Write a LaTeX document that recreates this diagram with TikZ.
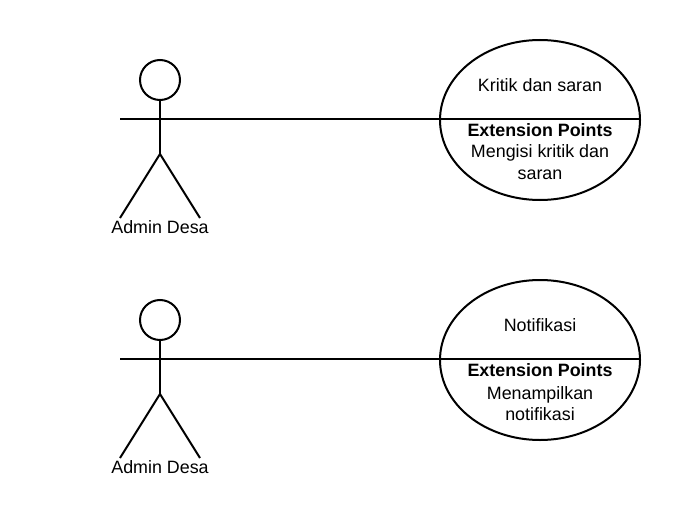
\documentclass[tikz,border=0pt]{standalone}
\usepackage{fontspec}
\setmainfont{Liberation Sans}
\usetikzlibrary{shapes.geometric}
\tikzset{
  ln/.style={draw=black,line width=1.5pt},
  lbl/.style={inner sep=0pt,anchor=base,font=\fontsize{13.4pt}{16pt}\selectfont,text=black,align=center},
  usecase/.style={ellipse,ln,minimum width=150pt,minimum height=120pt,inner sep=0pt},
  head/.style={circle,ln,minimum size=30pt,inner sep=0pt}
}
\begin{document}
\begin{tikzpicture}[x=0.75pt,y=-0.75pt]
\useasboundingbox[fill=white] (0,0) rectangle (680,520);
% upper
\node[head] (h1) at (160,80) {};
\coordinate (a1) at (120,119);
\coordinate (w1) at (160,154);
\coordinate (l1) at (120,218);
\coordinate (r1) at (200,218);
\node[usecase] (u1) at (540,120) {};
\coordinate (ul1) at (440,119);
\coordinate (ur1) at (640,119);
\draw[ln] (h1.south) -- (w1);
\draw[ln] (a1) -- (ul1) -- (ur1);
\draw[ln] (l1) -- (w1) -- (r1);
\node[lbl] (t1) at (160,233) {Admin Desa};
\node[lbl] (c1) at (540,92) {Kritik dan saran};
\node[lbl] (e1) at (540,136.5) {\textbf{Extension Points}};
\node[lbl] (m1) at (540,158) {Mengisi kritik dan};
\node[lbl] (s1) at (540,180) {saran};
% lower
\node[head] (h2) at (160,320) {};
\coordinate (a2) at (120,359);
\coordinate (w2) at (160,394);
\coordinate (l2) at (120,458);
\coordinate (r2) at (200,458);
\node[usecase] (u2) at (540,360) {};
\coordinate (ul2) at (440,359);
\coordinate (ur2) at (640,359);
\draw[ln] (h2.south) -- (w2);
\draw[ln] (a2) -- (ul2) -- (ur2);
\draw[ln] (l2) -- (w2) -- (r2);
\node[lbl] (t2) at (160,473) {Admin Desa};
\node[lbl] (c2) at (540,331.5) {Notifikasi};
\node[lbl] (e2) at (540,376.5) {\textbf{Extension Points}};
\node[lbl] (m2) at (540,399) {Menampilkan};
\node[lbl] (s2) at (540,420) {notifikasi};
\end{tikzpicture}
\end{document}
